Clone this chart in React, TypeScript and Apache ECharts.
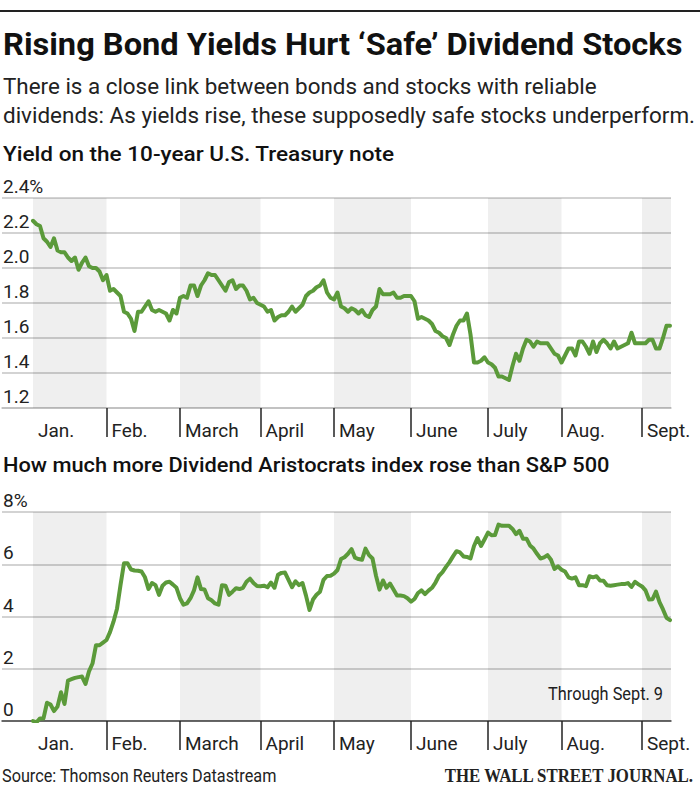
import React, { useEffect, useRef } from "react";
import * as echarts from "echarts";

// Month labels and the weekday index (counted from Jan. 1) at which each month starts
const monthLabels = ["Jan.", "Feb.", "March", "April", "May", "June", "July", "Aug.", "Sept."];
const monthStarts = [0, 21, 42, 65, 86, 108, 130, 151, 174];
// Months drawn with a gray background
const shadedMonths = [0, 2, 4, 6, 8];

// 10-year Treasury yield, %, one reading per weekday
const treasuryYield = [
  2.27, 2.25, 2.24, 2.17, 2.15, 2.12, 2.17, 2.10, 2.09, 2.09,
  2.06, 2.04, 2.06, 1.99, 2.03, 2.06, 2.01, 2.00, 2.00, 1.98,
  1.93, 1.96, 1.87, 1.88, 1.86, 1.84, 1.75, 1.74, 1.71, 1.64,
  1.75, 1.75, 1.78, 1.81, 1.76, 1.75, 1.76, 1.75, 1.74, 1.70,
  1.76, 1.74, 1.83, 1.84, 1.83, 1.90, 1.90, 1.84, 1.90, 1.93,
  1.97, 1.96, 1.96, 1.93, 1.90, 1.87, 1.92, 1.93, 1.88, 1.90,
  1.90, 1.87, 1.82, 1.83, 1.80, 1.79, 1.78, 1.75, 1.76, 1.70,
  1.72, 1.73, 1.73, 1.75, 1.78, 1.75, 1.77, 1.79, 1.84, 1.86,
  1.87, 1.89, 1.90, 1.93, 1.86, 1.83, 1.82, 1.86, 1.78, 1.77,
  1.75, 1.77, 1.76, 1.74, 1.76, 1.73, 1.72, 1.76, 1.78, 1.88,
  1.85, 1.85, 1.85, 1.86, 1.83, 1.83, 1.84, 1.84, 1.84, 1.81,
  1.71, 1.72, 1.71, 1.70, 1.68, 1.64, 1.63, 1.61, 1.60, 1.56,
  1.62, 1.67, 1.70, 1.70, 1.74, 1.62, 1.46, 1.46, 1.47, 1.49,
  1.46, 1.45, 1.43, 1.38, 1.38, 1.37, 1.36, 1.44, 1.51, 1.47,
  1.54, 1.59, 1.58, 1.55, 1.58, 1.57, 1.57, 1.57, 1.54, 1.51,
  1.50, 1.46, 1.50, 1.54, 1.54, 1.50, 1.58, 1.58, 1.55, 1.51,
  1.58, 1.52, 1.57, 1.59, 1.57, 1.54, 1.58, 1.54, 1.55, 1.56,
  1.57, 1.63, 1.57, 1.57, 1.57, 1.57, 1.59, 1.59, 1.54, 1.54,
  1.60, 1.67, 1.67,
];

// Dividend Aristocrats index gain minus S&P 500 gain, percentage points, one per weekday
const aristocratsOutperformance = [
  0.00, -0.05, 0.10, 0.10, 0.70, 0.63, 0.38, 0.55, 1.10, 0.65,
  1.55, 1.60, 1.65, 1.68, 1.70, 1.42, 1.90, 2.20, 2.90, 2.90,
  3.00, 3.10, 3.40, 3.80, 4.30, 5.20, 6.04, 6.04, 5.80, 5.76,
  5.75, 5.72, 5.50, 5.05, 5.28, 5.20, 4.83, 5.18, 5.30, 5.33,
  5.22, 5.10, 4.70, 4.45, 4.50, 4.70, 5.00, 5.50, 5.05, 5.03,
  4.70, 4.62, 4.50, 4.45, 5.20, 5.18, 4.83, 4.95, 5.08, 5.05,
  5.10, 5.33, 5.45, 5.28, 5.17, 5.16, 5.18, 5.12, 5.30, 5.10,
  5.60, 5.67, 5.68, 5.40, 5.12, 5.35, 5.20, 5.28, 4.80, 4.25,
  4.65, 4.83, 4.95, 5.40, 5.55, 5.56, 5.64, 5.78, 6.20, 6.27,
  6.40, 6.58, 6.25, 6.20, 6.17, 6.60, 6.35, 6.22, 5.56, 5.03,
  5.38, 5.10, 5.26, 5.03, 4.80, 4.80, 4.78, 4.70, 4.57, 4.67,
  4.90, 5.00, 4.86, 4.99, 5.10, 5.30, 5.56, 5.70, 5.90, 6.08,
  6.30, 6.50, 6.45, 6.30, 6.28, 6.22, 6.70, 7.00, 6.70, 6.95,
  7.21, 7.11, 7.12, 7.52, 7.47, 7.47, 7.47, 7.35, 7.15, 7.28,
  6.98, 6.98, 6.72, 6.60, 6.40, 6.22, 6.26, 6.35, 6.17, 5.82,
  5.92, 5.79, 5.72, 5.50, 5.45, 5.50, 5.20, 5.20, 5.16, 5.54,
  5.50, 5.54, 5.38, 5.37, 5.20, 5.18, 5.20, 5.22, 5.24, 5.24,
  5.28, 5.13, 5.33, 5.23, 5.15, 5.00, 4.65, 4.66, 4.95, 4.55,
  4.27, 3.95, 3.86,
];

const titleText = "Rising Bond Yields Hurt \u2018Safe\u2019 Dividend Stocks";
const subtitleLines = [
  "There is a close link between bonds and stocks with reliable",
  "dividends: As yields rise, these supposedly safe stocks underperform.",
];
const chart1Title = "Yield on the 10-year U.S. Treasury note";
const chart2Title = "How much more Dividend Aristocrats index rose than S&P 500";
const noteText = "Through Sept. 9";
const sourceText = "Source: Thomson Reuters Datastream";
const logoText = "THE WALL STREET JOURNAL.";

const GREEN = "#5b9a3a";
const FAM = "Roboto, 'Noto Sans', 'DejaVu Sans', sans-serif";
const SERIF = "'Liberation Serif', 'DejaVu Serif', serif";

// layout
const GRID_LEFT = 2;
const GRID_RIGHT_EDGE = 671;
const PLOT_START = 33;
const PX_PER_DAY = 3.5;
const XMIN = -(PLOT_START - GRID_LEFT) / PX_PER_DAY;
const XMAX = XMIN + (GRID_RIGHT_EDGE - GRID_LEFT) / PX_PER_DAY;

function measure(text: string, font: string): number {
  const ctx = document.createElement("canvas").getContext("2d");
  if (!ctx) return 0;
  ctx.font = font;
  return ctx.measureText(text).width;
}

function fittedText(
  text: string,
  x: number,
  y: number,
  weight: number,
  size: number,
  family: string,
  targetWidth: number,
  fill: string,
  align: "left" | "right" = "left"
) {
  const font = `${weight} ${size}px ${family}`;
  const w = measure(text, font);
  const s = w > 0 ? targetWidth / w : 1;
  return {
    type: "text",
    x,
    y,
    scaleX: s,
    silent: true,
    style: {
      text,
      font,
      fill,
      align,
      textAlign: align,
      verticalAlign: "middle",
      textVerticalAlign: "middle",
    },
  };
}

function monthFormatter(v: number): string {
  let best = 0;
  for (let i = 0; i < monthStarts.length; i++) {
    if (Math.abs(monthStarts[i] - v) < Math.abs(monthStarts[best] - v)) best = i;
  }
  return monthLabels[best];
}

function bands() {
  return shadedMonths.map((m) => [
    { xAxis: monthStarts[m] },
    { xAxis: m + 1 < monthStarts.length ? monthStarts[m + 1] : XMAX },
  ]);
}

function xAxisFor(gridIndex: number, lineColor: string) {
  return {
    type: "value",
    gridIndex,
    min: XMIN,
    max: XMAX,
    axisLine: { show: true, onZero: false, lineStyle: { color: lineColor, width: 1.5 } },
    axisTick: {
      show: true,
      customValues: monthStarts.slice(1),
      length: 29,
      lineStyle: { color: "#222", width: 1.5 },
    },
    axisLabel: {
      customValues: monthStarts,
      formatter: monthFormatter,
      align: "left",
      verticalAlign: "middle",
      margin: 22,
      padding: [0, 0, 0, 5],
      fontSize: 19,
      color: "#222",
      fontFamily: FAM,
    },
    splitLine: { show: false },
  };
}

function yAxisFor(gridIndex: number, min: number, max: number, interval: number, fmt: (v: number) => string) {
  return {
    type: "value",
    gridIndex,
    min,
    max,
    interval,
    axisLine: { show: false },
    axisTick: { show: false },
    splitLine: { show: true, lineStyle: { color: "#c4c4c4", width: 1.5 } },
    axisLabel: {
      inside: true,
      align: "left",
      verticalAlign: "bottom",
      lineHeight: 23,
      margin: 1,
      fontSize: 19,
      color: "#222",
      fontFamily: FAM,
      formatter: fmt,
    },
  };
}

export default function App() {
  const ref = useRef<HTMLDivElement>(null);

  useEffect(() => {
    if (!ref.current) return;
    const chart = echarts.init(ref.current, undefined, { renderer: "svg" });

    const lineSeries = (idx: number, values: number[]) => ({
      type: "line",
      xAxisIndex: idx,
      yAxisIndex: idx,
      data: values.map((v, i) => [i, v]),
      showSymbol: false,
      symbol: "none",
      silent: true,
      emphasis: { disabled: true },
      lineStyle: { color: GREEN, width: 4, join: "round", cap: "round" },
      markArea: {
        silent: true,
        itemStyle: { color: "rgba(0,0,0,0.064)" },
        data: bands(),
      },
      z: 3,
    });

    chart.setOption({
      animation: false,
      backgroundColor: "#fff",
      grid: [
        { left: GRID_LEFT, right: 700 - GRID_RIGHT_EDGE, top: 198, height: 210 },
        { left: GRID_LEFT, right: 700 - GRID_RIGHT_EDGE, top: 512, height: 209 },
      ],
      xAxis: [xAxisFor(0, "#bdbdbd"), xAxisFor(1, "#444")],
      yAxis: [
        yAxisFor(0, 1.2, 2.4, 0.2, (v: number) =>
          Math.abs(v - 2.4) < 1e-6 ? "2.4%" : v.toFixed(1)
        ),
        yAxisFor(1, 0, 8, 2, (v: number) => (v === 8 ? "8%" : String(Math.round(v)))),
      ],
      series: [lineSeries(0, treasuryYield), lineSeries(1, aristocratsOutperformance)],
      graphic: [
        {
          type: "line",
          silent: true,
          shape: { x1: 0, y1: 11, x2: 700, y2: 11 },
          style: { stroke: "#222", lineWidth: 2 },
        },
        fittedText(titleText, 3, 44, 700, 31, FAM, 680, "#111"),
        fittedText(subtitleLines[0], 3, 86, 400, 22, FAM, 594, "#222"),
        fittedText(subtitleLines[1], 3, 115, 400, 22, FAM, 692, "#222"),
        fittedText(chart1Title, 3, 154, 500, 20, FAM, 392, "#111"),
        fittedText(chart2Title, 3, 465, 500, 20, FAM, 607, "#111"),
        fittedText(noteText, 663, 694, 400, 18, FAM, 115, "#222", "right"),
        fittedText(sourceText, 2, 776, 400, 18, FAM, 275, "#222"),
        fittedText(logoText, 693, 776, 700, 19, SERIF, 250, "#222", "right"),
      ],
    });

    return () => chart.dispose();
  }, []);

  return (
    <div
      ref={ref}
      style={{ position: "absolute", left: 0, top: 0, width: 700, height: 788 }}
    />
  );
}
